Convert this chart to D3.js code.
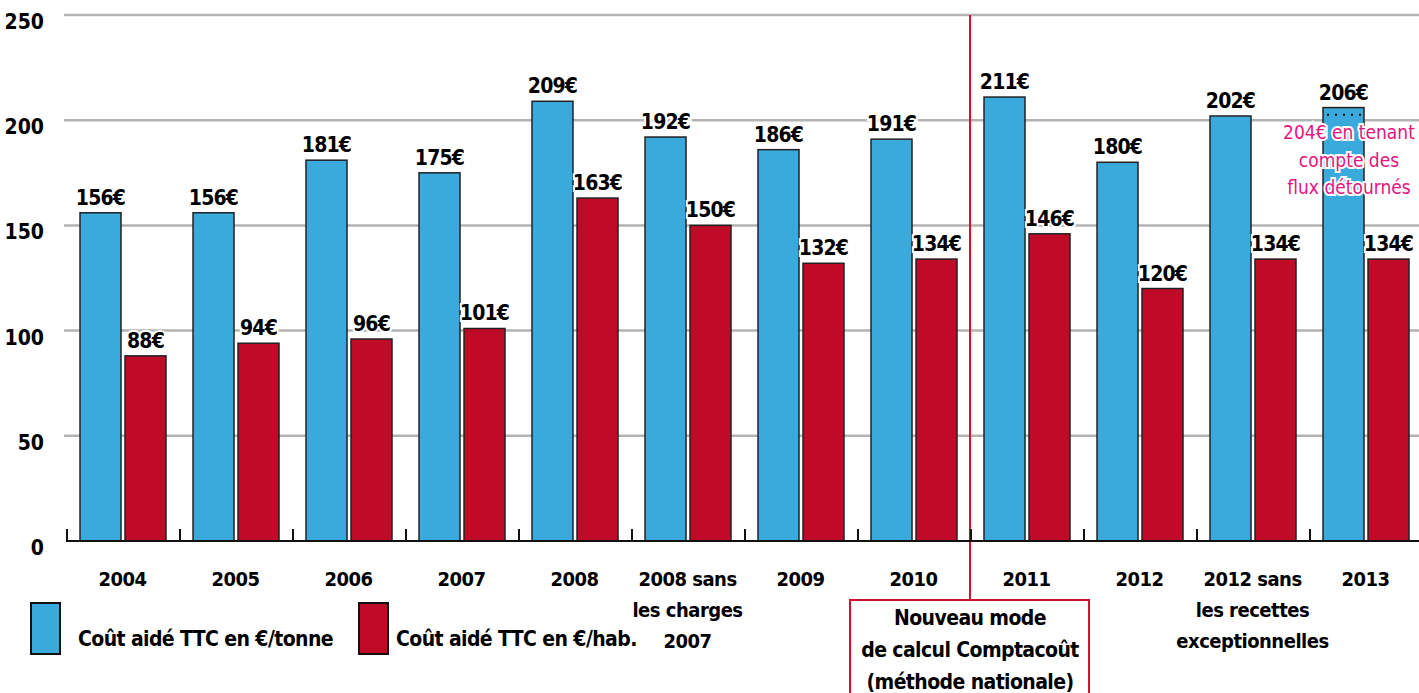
<!DOCTYPE html>
<html>
<head>
<meta charset="utf-8">
<script src="https://cdn.jsdelivr.net/npm/d3@7"></script>
<style>
  body { margin: 0; background: #fff; }
  text { font-family: "Liberation Sans Narrow", "DejaVu Sans Condensed", sans-serif; font-weight: bold; }
</style>
</head>
<body>
<div id="chart"></div>
<script>
// categories (multi-line labels split with |)
var categories = ["2004", "2005", "2006", "2007", "2008", "2008 sans|les charges|2007",
                  "2009", "2010", "2011", "2012", "2012 sans|les recettes|exceptionnelles", "2013"];
var coutTonne = [156, 156, 181, 175, 209, 192, 186, 191, 211, 180, 202, 206];
var coutHab   = [88, 94, 96, 101, 163, 150, 132, 134, 146, 120, 134, 134];
var yTicks = [0, 50, 100, 150, 200, 250];
var seriesNames = ["Coût aidé TTC en €/tonne", "Coût aidé TTC en €/hab."];
var fluxDetournes = 204;

var width = 1419, height = 693;
var blue = "#3aa9dc", red = "#bf0a28", pink = "#e5147f";

var svg = d3.select("#chart").append("svg")
            .attr("width", width)
            .attr("height", height);

var x0 = d3.scaleBand()
           .domain(categories)
           .range([66, 66 + 12 * 113]);

var x1 = d3.scaleBand()
           .domain([0, 1])
           .range([x0.bandwidth() * 0.124, x0.bandwidth() * 0.885])
           .paddingInner(0.089);

var y = d3.scaleLinear()
          .domain([0, 250])
          .range([541, 15]);

// gridlines
svg.append("g")
  .selectAll("line")
    .data(yTicks.filter(d => d > 0))
  .enter().append("line")
    .attr("x1", 64).attr("x2", width)
    .attr("y1", d => y(d)).attr("y2", d => y(d))
    .attr("stroke", "#b3b3b3")
    .attr("stroke-width", 2.5);

// y labels
svg.append("g")
  .selectAll("text")
    .data(yTicks)
  .enter().append("text")
    .attr("x", 44)
    .attr("y", d => y(d) + 14)
    .attr("text-anchor", "end")
    .style("font-size", "21px")
    .text(d => d);

// separation line (new calculation method)
var sepX = x0(categories[8]);
svg.append("line")
   .attr("x1", sepX).attr("x2", sepX)
   .attr("y1", y(250)).attr("y2", 600)
   .attr("stroke", "#d6102e")
   .attr("stroke-width", 2);

// bars
var groups = svg.append("g")
  .selectAll("g")
    .data(categories)
  .enter().append("g")
    .attr("transform", d => "translate(" + x0(d) + ",0)");

groups.selectAll("rect")
    .data((d, i) => [coutTonne[i], coutHab[i]])
  .enter().append("rect")
    .attr("x", (d, j) => x1(j))
    .attr("width", x1.bandwidth())
    .attr("y", d => y(d))
    .attr("height", d => y(0) - y(d))
    .attr("fill", (d, j) => j === 0 ? blue : red)
    .attr("stroke", "#222")
    .attr("stroke-width", 1.5);

// value labels
groups.selectAll("text.val")
    .data((d, i) => [coutTonne[i], coutHab[i]])
  .enter().append("text")
    .attr("class", "val")
    .attr("x", (d, j) => x1(j) + x1.bandwidth() / 2)
    .attr("y", d => y(d) - 8)
    .attr("text-anchor", "middle")
    .style("font-size", "21px")
    .style("letter-spacing", "-0.8px")
    .attr("stroke", "#fff")
    .attr("stroke-width", 4)
    .attr("paint-order", "stroke")
    .attr("fill", "#000")
    .text(d => d + "€");

// baseline and category ticks
svg.append("line")
   .attr("x1", 66).attr("x2", width)
   .attr("y1", y(0)).attr("y2", y(0))
   .attr("stroke", "#111").attr("stroke-width", 2);

svg.append("g")
  .selectAll("line")
    .data(categories)
  .enter().append("line")
    .attr("x1", d => x0(d) + 1).attr("x2", d => x0(d) + 1)
    .attr("y1", y(0) - 12).attr("y2", y(0))
    .attr("stroke", "#111").attr("stroke-width", 2);

// x labels
svg.append("g")
  .selectAll("text")
    .data(categories)
  .enter().append("text")
    .attr("x", d => x0(d) + x0.bandwidth() / 2)
    .attr("y", 586)
    .attr("text-anchor", "middle")
    .style("font-size", "20px")
    .style("letter-spacing", "-0.5px")
  .selectAll("tspan")
    .data(d => d.split("|"))
  .enter().append("tspan")
    .attr("x", function() { return this.parentNode.getAttribute("x"); })
    .attr("dy", (d, i) => i === 0 ? 0 : 31)
    .text(d => d);

// 2013 annotation: flux détournés
var lastCat = categories[11];
var bx = x0(lastCat) + x1(0);
svg.append("line")
   .attr("x1", bx + 4).attr("x2", bx + x1.bandwidth() - 2)
   .attr("y1", y(fluxDetournes) + 3).attr("y2", y(fluxDetournes) + 3)
   .attr("stroke", "#111")
   .attr("stroke-width", 2)
   .attr("stroke-dasharray", "2,6");

var noteX = x0(lastCat) + 40;
svg.append("text")
   .attr("x", noteX)
   .attr("y", 139)
   .attr("text-anchor", "middle")
   .attr("fill", pink)
   .attr("stroke", "#fff")
   .attr("stroke-width", 4)
   .attr("paint-order", "stroke")
   .style("font-size", "19px")
   .style("font-weight", "normal")
  .selectAll("tspan")
    .data([fluxDetournes + "€ en tenant", "compte des", "flux détournés"])
  .enter().append("tspan")
    .attr("x", noteX)
    .attr("dy", (d, i) => i === 0 ? 0 : 27.5)
    .text(d => d);

// legend
var legend = svg.append("g");
[[31, blue], [359, red]].forEach(function(l, i) {
  legend.append("rect")
        .attr("x", l[0]).attr("y", 603)
        .attr("width", 29).attr("height", 51)
        .attr("fill", l[1])
        .attr("stroke", "#111").attr("stroke-width", 2);
  legend.append("text")
        .attr("x", l[0] + (i === 0 ? 47 : 37))
        .attr("y", 646)
        .style("font-size", "21px")
        .style("letter-spacing", "-0.6px")
        .text(seriesNames[i]);
});

// new method box
svg.append("rect")
   .attr("x", 850).attr("y", 600)
   .attr("width", 239).attr("height", 100)
   .attr("fill", "#fff")
   .attr("stroke", "#d6102e").attr("stroke-width", 2);

svg.append("text")
   .attr("x", sepX)
   .attr("y", 625)
   .attr("text-anchor", "middle")
   .style("font-size", "21px")
   .style("letter-spacing", "-0.6px")
  .selectAll("tspan")
    .data(["Nouveau mode", "de calcul Comptacoût", "(méthode nationale)"])
  .enter().append("tspan")
    .attr("x", sepX)
    .attr("dy", (d, i) => i === 0 ? 0 : 32)
    .text(d => d);
</script>
</body>
</html>
